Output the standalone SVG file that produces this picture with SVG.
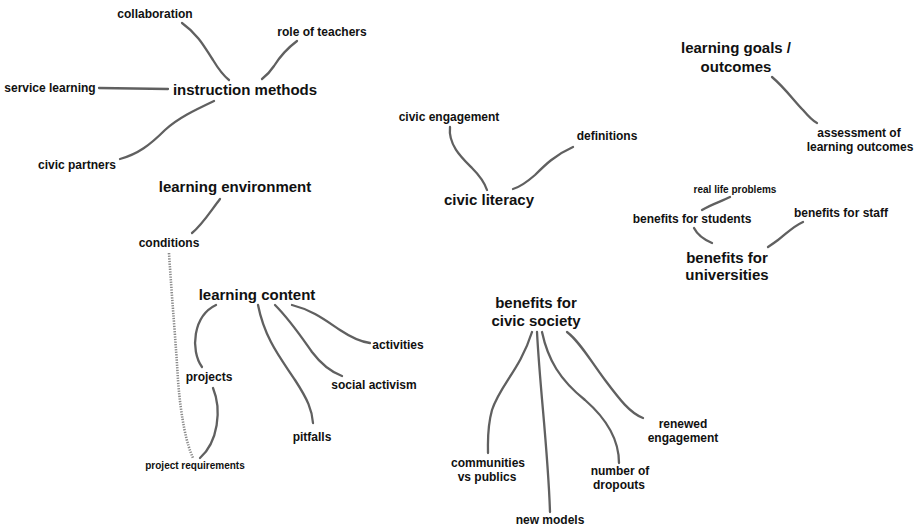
<svg xmlns="http://www.w3.org/2000/svg" width="916" height="528" viewBox="0 0 916 528">
  <style>
    text { font-family: "Liberation Sans", Arial, sans-serif; font-weight: bold; fill: #111; text-anchor: middle; }
    .main { font-size: 15px; }
    .sub { font-size: 12px; }
    .tiny { font-size: 10px; }
    .link { fill: none; stroke: #606060; stroke-width: 2.3; stroke-linecap: round; }
    .dotted { fill: none; stroke: #8a8a8a; stroke-width: 2.6; stroke-dasharray: 1.3 1.3; }
  </style>
  <rect width="916" height="528" fill="#fff"/>

  <g id="connectors">
    <!-- instruction methods -->
    <path class="link" d="M182,23 C200,36 206,50 213,60 C219,70 224,76 229,80"/>
    <path class="link" d="M297,41 C285,50 279,58 274,66 C270,72 266,76 262,79"/>
    <path class="link" d="M99,88 L168,89"/>
    <path class="link" d="M214,101 C195,110 178,118 165,130 C150,145 138,154 120,159"/>
    <!-- learning environment -->
    <path class="link" d="M220,199 C210,212 202,225 192,233"/>
    <path class="dotted" d="M169,253 C172,300 176,345 178,380 C181,420 187,445 193,458"/>
    <!-- learning content -->
    <path class="link" d="M216,305 C193,316 190,350 202,367"/>
    <path class="link" d="M213,388 C222,410 218,442 200,458"/>
    <path class="link" d="M258,305 C265,340 282,360 295,380 C308,400 312,410 313,423"/>
    <path class="link" d="M275,305 C290,320 300,335 312,352 C324,368 334,373 342,376"/>
    <path class="link" d="M292,305 C312,310 325,320 340,330 C352,338 362,342 370,343"/>
    <!-- civic literacy -->
    <path class="link" d="M450,127 C448,145 462,158 472,168 C480,176 485,184 487,190"/>
    <path class="link" d="M573,147 C555,155 545,165 535,175 C527,182 520,187 513,189"/>
    <!-- learning goals -->
    <path class="link" d="M772,77 C785,88 795,102 803,110 C809,117 813,121 817,123"/>
    <!-- benefits for universities -->
    <path class="link" d="M702,210 C712,204 720,202 730,197"/>
    <path class="link" d="M694,228 C698,236 705,240 712,243"/>
    <path class="link" d="M803,222 C792,227 785,235 778,240 C774,243 771,245 768,247"/>
    <!-- benefits for civic society -->
    <path class="link" d="M532,332 C520,370 500,385 492,410 C487,428 488,440 488,453"/>
    <path class="link" d="M537,332 C540,390 548,450 550,512"/>
    <path class="link" d="M542,332 C548,360 560,380 585,400 C608,420 619,440 619,463"/>
    <path class="link" d="M567,332 C580,342 590,360 605,380 C620,400 630,413 643,418"/>
  </g>

  <g id="instruction-methods"><text class="main" x="245" y="95">instruction methods</text></g>
  <g id="collaboration"><text class="sub" x="155" y="18">collaboration</text></g>
  <g id="role-of-teachers"><text class="sub" x="322" y="36">role of teachers</text></g>
  <g id="service-learning"><text class="sub" x="50" y="92">service learning</text></g>
  <g id="civic-partners"><text class="sub" x="77" y="169">civic partners</text></g>

  <g id="learning-environment"><text class="main" x="235" y="192">learning environment</text></g>
  <g id="conditions"><text class="sub" x="169" y="247">conditions</text></g>

  <g id="learning-content"><text class="main" x="257" y="300">learning content</text></g>
  <g id="projects"><text class="sub" x="209" y="381">projects</text></g>
  <g id="project-requirements"><text class="tiny" x="195" y="469">project requirements</text></g>
  <g id="pitfalls"><text class="sub" x="312" y="441">pitfalls</text></g>
  <g id="social-activism"><text class="sub" x="374" y="389">social activism</text></g>
  <g id="activities"><text class="sub" x="398" y="349">activities</text></g>

  <g id="civic-literacy"><text class="main" x="489" y="205">civic literacy</text></g>
  <g id="civic-engagement"><text class="sub" x="449" y="121">civic engagement</text></g>
  <g id="definitions"><text class="sub" x="607" y="140">definitions</text></g>

  <g id="learning-goals"><text class="main" x="736" y="53">learning goals /</text><text class="main" x="736" y="72">outcomes</text></g>
  <g id="assessment"><text class="sub" x="859" y="137">assessment of</text><text class="sub" x="860" y="151">learning outcomes</text></g>

  <g id="benefits-universities"><text class="main" x="727" y="263">benefits for</text><text class="main" x="727" y="280">universities</text></g>
  <g id="real-life-problems"><text class="tiny" x="735" y="193">real life problems</text></g>
  <g id="benefits-students"><text class="sub" x="692" y="223">benefits for students</text></g>
  <g id="benefits-staff"><text class="sub" x="841" y="217">benefits for staff</text></g>

  <g id="benefits-civic-society"><text class="main" x="536" y="308">benefits for</text><text class="main" x="536" y="326">civic society</text></g>
  <g id="communities"><text class="sub" x="488" y="467">communities</text><text class="sub" x="487" y="481">vs publics</text></g>
  <g id="new-models"><text class="sub" x="550" y="524">new models</text></g>
  <g id="dropouts"><text class="sub" x="620" y="475">number of</text><text class="sub" x="619" y="489">dropouts</text></g>
  <g id="renewed-engagement"><text class="sub" x="683" y="428">renewed</text><text class="sub" x="683" y="442">engagement</text></g>
</svg>
